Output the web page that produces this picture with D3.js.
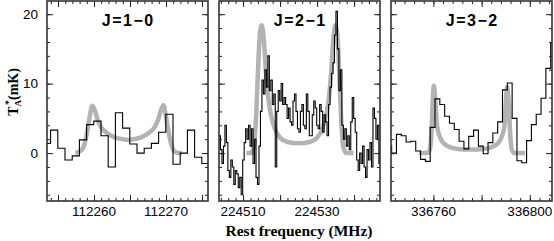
<!DOCTYPE html>
<html>
<head>
<meta charset="utf-8">
<script src="https://cdn.jsdelivr.net/npm/d3@7"></script>
<style>
  body { margin: 0; background: #fff; }
  text { fill: #000; }
</style>
</head>
<body>
<script>
// ---- data ----
// J=1-0 : 1 MHz channels
var p1Start = 112253.47, p1Step = 1.0;
var p1Temp = [1.4, 3.3, 0.7, -1.0, -0.4, 1.9, 4.1, 4.6, 2.5, -2.0, 5.8, 3.6, 1.3, 0.0, 0.7, 1.4, 3.0, 5.6, -1.6, 0.0, 3.3, -0.6, -1.5];
var p1Model = [[112257.4, 0], [112258.0, 0.2], [112258.6, 1.0], [112259.0, 2.8], [112259.4, 5.2], [112259.75, 6.8],
  [112260.1, 6.2], [112260.5, 4.8], [112261.0, 3.7], [112261.8, 2.9], [112262.8, 2.3], [112264.0, 2.0], [112264.7, 1.9],
  [112265.5, 2.0], [112266.6, 2.3], [112267.6, 2.9], [112268.4, 3.7], [112268.9, 4.8], [112269.3, 6.2], [112269.65, 6.9],
  [112270.0, 5.2], [112270.4, 2.8], [112270.8, 1.0], [112271.2, 0.2], [112271.8, 0], [112272.2, 0]];

// J=2-1 : 0.4 MHz channels
var p2Start = 224503.7, p2Step = 0.4;
var p2Temp = [2.5, 0.5, -1.5, 1.0, 4.0, 1.5, -2.5, -3.5, -1.0, -2.0,
  -4.5, -2.5, -3.0, -5.0, -3.5, -6.0, -1.0, 1.5, 3.5, 2.0,
  4.0, 1.0, 3.5, -1.5, 2.0, -3.5, -4.5, 1.0, 6.0, 10.5,
  8.5, 12.0, 9.5, 14.0, 9.0, 10.5, 7.0, 8.5, -2.0, 6.0,
  9.0, 7.5, 10.0, 7.0, 8.0, 7.0, 5.0, 6.5, 4.5, 4.0,
  7.5, 8.5, 6.0, 3.5, 3.0, 6.0, 7.0, 4.0, 3.5, 8.5,
  6.0, 2.5, 2.5, 5.5, 7.5, 6.5, 4.0, 3.5, 7.0, 6.0,
  3.0, 5.5, 4.5, 2.5, 7.0, 9.5, 11.5, 13.0, 17.0, 20.4,
  15.0, 9.0, 12.0, 4.0, 2.0, 3.5, 1.0, 2.5, 0.5, 4.5,
  8.0, 5.0, 3.0, -1.0, -2.5, 0.0, -1.5, 1.0, -2.0, -3.5,
  0.5, -1.0, 1.5, -2.0, 6.5, 5.0, 2.0, 4.0, -1.5, 1.0];
var p2Model = [[224510.9, 0], [224512.0, 0], [224512.9, 0.8], [224513.4, 4], [224513.9, 10], [224514.4, 16], [224515.0, 18.4],
  [224515.6, 16.5], [224516.2, 11.5], [224516.8, 8.0], [224517.5, 5.6], [224518.5, 3.6], [224520.0, 2.2], [224522.0, 1.6],
  [224525.0, 1.4], [224528.0, 1.6], [224530.0, 2.2], [224531.5, 3.6], [224532.5, 5.6], [224533.2, 8.0], [224533.8, 11.5],
  [224534.4, 16.5], [224535.0, 18.4], [224535.6, 16], [224536.1, 10], [224536.6, 4], [224537.1, 0.8], [224538.0, 0], [224539.8, 0]];

// J=3-2 : 2 MHz channels
var p3Start = 336741.66, p3Step = 2.0;
var p3Temp = [1.0, 0.0, 2.7, 2.5, 1.6, 1.7, 0.3, -0.9, -1.2, 3.7,
  7.8, 7.0, 5.3, 4.3, 3.4, 1.7, 0.6, 2.4, 3.3, 1.0,
  -0.1, 1.5, 2.9, 4.5, 9.1, 10.1, 5.0, -1.1, -1.4, 1.8,
  4.1, 5.6, 7.9, 12.2, 15.8];
var p3Model = [[336754.0, 0], [336757.5, 0], [336758.5, 0.5], [336759.2, 3], [336759.7, 7.5], [336760.2, 9.7],
  [336760.8, 7.5], [336761.5, 4.0], [336762.5, 2.5], [336764.0, 1.5], [336766.5, 0.9], [336770, 0.6], [336775.4, 0.5],
  [336781, 0.6], [336784.5, 0.9], [336787, 1.5], [336788.5, 2.5], [336789.5, 4.0], [336790.1, 7.5], [336790.6, 9.5],
  [336791.2, 7.5], [336791.8, 3], [336792.5, 0.5], [336793.5, 0], [336798, 0]];

var titles = ["J=1\u22120", "J=2\u22121", "J=3\u22122"];
var xLabels = [[112260, 112270], [224510, 224530], [336760, 336800]];
var yLabels = [0, 10, 20];

// ---- layout ----
var width = 554, height = 241;
var yTop = 1, yBottom = 201;

var panels = [
  {x0: 47,  x1: 208, dom: [112253.47, 112275.83], start: p1Start, step: p1Step, temp: p1Temp, model: p1Model, major: 5,  minor: 1},
  {x0: 219, x1: 380, dom: [224503.5, 224547.0],   start: p2Start, step: p2Step, temp: p2Temp, model: p2Model, major: 10, minor: 2},
  {x0: 391, x1: 552, dom: [336742.4, 336809.2],   start: p3Start, step: p3Step, temp: p3Temp, model: p3Model, major: 20, minor: 4}
];

var svg = d3.select("body").append("svg").attr("width", width).attr("height", height);

var y = d3.scaleLinear().domain([-6.9, 21.9]).range([yBottom, yTop]);

var yMinor = d3.range(-6, 22, 2);
var yMajor = [0, 10, 20];

panels.forEach(function (p, i) {
  var x = d3.scaleLinear().domain(p.dom).range([p.x0, p.x1]);
  var g = svg.append("g");

  g.append("clipPath").attr("id", "clip" + i)
    .append("rect").attr("x", p.x0).attr("y", yTop).attr("width", p.x1 - p.x0).attr("height", yBottom - yTop);

  var plot = g.append("g").attr("clip-path", "url(#clip" + i + ")");

  // model (grey)
  plot.append("path")
    .datum(p.model)
    .attr("d", d3.line().x(function (d) { return x(d[0]); }).y(function (d) { return y(d[1]); }).curve(d3.curveMonotoneX))
    .attr("fill", "none")
    .attr("stroke", "#b3b3b3")
    .attr("stroke-width", 4.5)
    .attr("stroke-linejoin", "round");

  // observed spectrum (histogram)
  var pts = [];
  p.temp.forEach(function (t, k) {
    var c = p.start + k * p.step;
    pts.push([c - p.step / 2, t]);
    pts.push([c + p.step / 2, t]);
  });
  plot.append("path")
    .datum(pts)
    .attr("d", d3.line().x(function (d) { return x(d[0]); }).y(function (d) { return y(d[1]); }))
    .attr("fill", "none")
    .attr("stroke", "#000")
    .attr("stroke-width", 1.1);

  // ticks (inward, all four sides)
  var xMinor = d3.range(Math.ceil(p.dom[0] / p.minor) * p.minor, p.dom[1], p.minor);
  var xMajor = xMinor.filter(function (v) { return Math.abs(v / p.major - Math.round(v / p.major)) < 1e-6; });

  [[xMinor, 3], [xMajor, 6]].forEach(function (t) {
    g.append("g").attr("transform", "translate(0," + yBottom + ")")
      .call(d3.axisBottom(x).tickValues(t[0]).tickSize(-t[1]).tickFormat(""));
    g.append("g").attr("transform", "translate(0," + yTop + ")")
      .call(d3.axisTop(x).tickValues(t[0]).tickSize(-t[1]).tickFormat(""));
  });
  [[yMinor, 3], [yMajor, 6]].forEach(function (t) {
    g.append("g").attr("transform", "translate(" + p.x0 + ",0)")
      .call(d3.axisLeft(y).tickValues(t[0]).tickSize(-t[1]).tickFormat(""));
    g.append("g").attr("transform", "translate(" + p.x1 + ",0)")
      .call(d3.axisRight(y).tickValues(t[0]).tickSize(-t[1]).tickFormat(""));
  });
  g.selectAll(".domain").remove();
  g.selectAll(".tick line").attr("stroke", "#222").attr("stroke-width", 1);

  // frame
  g.append("rect")
    .attr("x", p.x0).attr("y", yTop).attr("width", p.x1 - p.x0).attr("height", yBottom - yTop)
    .attr("fill", "none").attr("stroke", "#333").attr("stroke-width", 1.6);

  // x tick labels
  g.selectAll("text.xl").data(xLabels[i]).enter().append("text")
    .attr("class", "xl")
    .attr("x", function (d) { return x(d); })
    .attr("y", 216)
    .attr("text-anchor", "middle")
    .style("font-family", "'Liberation Sans', Arial, sans-serif")
    .style("font-size", "13.5px")
    .text(function (d) { return d; });

  // title
  g.append("text")
    .attr("x", (p.x0 + p.x1) / 2 + 0.75)
    .attr("y", 26)
    .attr("text-anchor", "middle")
    .style("font-family", "'Liberation Sans', Arial, sans-serif")
    .style("font-weight", "bold")
    .style("font-size", "16px")
    .style("letter-spacing", "1.5px")
    .text(titles[i]);
});

// y tick labels (first panel only)
svg.selectAll("text.yl").data(yLabels).enter().append("text")
  .attr("class", "yl")
  .attr("x", 38)
  .attr("y", function (d) { return y(d); })
  .attr("dy", "0.36em")
  .attr("text-anchor", "end")
  .style("font-family", "'Liberation Sans', Arial, sans-serif")
  .style("font-size", "13.5px")
  .text(function (d) { return d; });

// y axis title
var yt = svg.append("text")
  .attr("transform", "translate(18,92) rotate(-90)")
  .attr("text-anchor", "middle")
  .style("font-family", "'Liberation Serif', 'Times New Roman', serif")
  .style("font-weight", "bold")
  .style("font-size", "14px");
yt.append("tspan").text("T");
yt.append("tspan").attr("dy", 3).style("font-size", "9px").text("A");
yt.append("tspan").attr("dx", -5).attr("dy", -9).style("font-size", "10px").text("*");
yt.append("tspan").attr("dy", 6).text("(mK)");

// x axis title
svg.append("text")
  .attr("x", 299)
  .attr("y", 236)
  .attr("text-anchor", "middle")
  .style("font-family", "'Liberation Serif', 'Times New Roman', serif")
  .style("font-weight", "bold")
  .style("font-size", "15.5px")
  .text("Rest frequency (MHz)");
</script>
</body>
</html>
